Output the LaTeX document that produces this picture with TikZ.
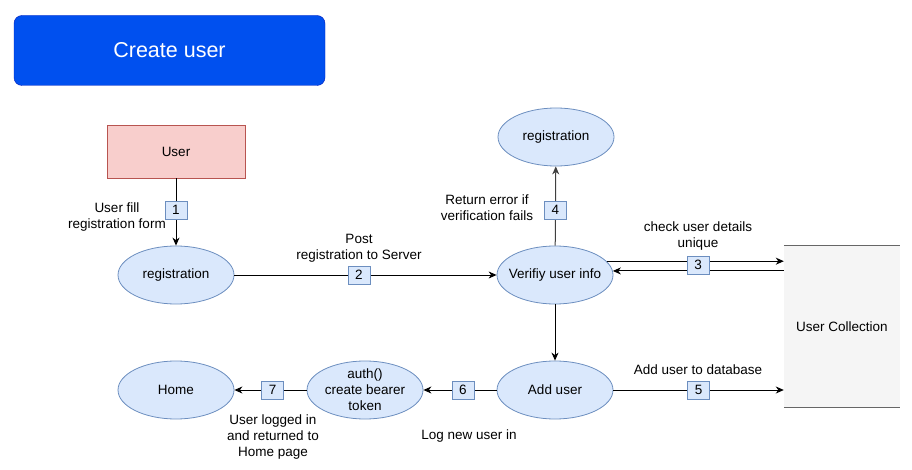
\documentclass[tikz,border=0pt]{standalone}
\usepackage{fontspec}
\setmainfont{Liberation Sans}
\usepackage{tikz}
\usetikzlibrary{
  arrows.meta,%
  shapes.geometric,%
  positioning,%
  calc
}
\definecolor{titleblue}{HTML}{0050EF}
\definecolor{titleline}{HTML}{001DBC}
\definecolor{userfill}{HTML}{F8CECC}
\definecolor{userline}{HTML}{B85450}
\definecolor{procfill}{HTML}{DAE8FC}
\definecolor{procline}{HTML}{6C8EBF}
\definecolor{storefill}{HTML}{F5F5F5}
\definecolor{storeline}{HTML}{666666}
\tikzset{>={Stealth[length=8pt, width=7pt, inset=2.5pt]}}
\tikzset{font=\fontsize{13.5}{16}\selectfont}
\tikzset{
  % negative inner sep keeps every ellipse at the same size
  process/.style={ellipse, draw=procline, fill=procfill, line width=0.8pt,
    minimum width=116pt, minimum height=58pt, inner xsep=-14pt, inner ysep=-12pt,
    align=center},
  numbox/.style={draw=procline, fill=procfill, line width=0.8pt,
    minimum width=22pt, minimum height=18pt, inner sep=0pt},
  flowtext/.style={align=center, inner sep=0pt},
  flow/.style={->, line width=1pt}
}

\begin{document}
\begin{tikzpicture}[x=1pt, y=-1pt]
  \useasboundingbox (0, 0) rectangle (912, 470); %
  % title and entities
  \node[rounded corners=8pt, draw=titleline, fill=titleblue, text=white,
    minimum width=311pt, minimum height=70pt,
    font=\fontsize{21.5}{24}\selectfont] (title) at (169.5, 50.5) {Create user}; %
  \node[draw=userline, fill=userfill, line width=0.8pt,
    minimum width=138pt, minimum height=53pt] (user) at (176, 151.5) {User}; %
  \node[fill=storefill, minimum width=116pt, minimum height=161pt] (coll) at (842, 326.5) {User Collection}; %
  \draw[storeline, line width=1pt] (coll.north west) -- (coll.north east); %
  \draw[storeline, line width=1pt] (coll.south west) -- (coll.south east); %
  % processes
  \node[process] (reg) at (176, 275) {registration}; %
  \node[process] (regerr) at (556, 137) {registration}; %
  \node[process] (verify) at (555, 275) {Verifiy user info}; %
  \node[process] (adduser) at (555, 390) {Add user}; %
  \node[process] (auth) at (365, 390) {auth()\\create bearer\\token}; %
  \node[process] (home) at (176, 390) {Home}; %
  % data flows
  \draw[flow] (user) -- node[numbox, pos=0.47] (n1) {1} (reg); %
  \draw[flow] (reg) -- node[numbox, pos=0.475] (n2) {2} (verify); %
  \draw[flow] (verify.15) -- (verify.15 -| coll.west); %
  \draw[flow] (coll.west |- verify.4) -- (verify.4); %
  \node[numbox] (n3) at (698, 265) {3}; %
  \draw[flow, black!75] (verify) -- node[numbox, text=black, pos=0.45] (n4) {4} (regerr); %
  \draw[flow] (verify) -- (adduser); %
  \draw[flow] (adduser) -- node[numbox, pos=0.5] (n5) {5} (adduser -| coll.west); %
  \draw[flow] (adduser) -- node[numbox, pos=0.46] (n6) {6} (auth); %
  \draw[flow] (auth) -- node[numbox, pos=0.47] (n7) {7} (home); %
  % flow descriptions
  \node[flowtext] (t1) at (117, 217) {User fill\\registration form}; %
  \node[flowtext] (t2) at (359, 248) {Post\\registration to Server}; %
  \node[flowtext] (t3) at (698, 236) {check user details\\unique}; %
  \node[flowtext] (t4) at (487, 208) {Return error if\\verification fails}; %
  \node[flowtext] (t5) at (698, 370) {Add user to database}; %
  \node[flowtext] (t6) at (469, 436) {Log new user in}; %
  \node[flowtext] (t7) at (273, 437) {User logged in\\and returned to\\Home page}; %
\end{tikzpicture}
\end{document}
